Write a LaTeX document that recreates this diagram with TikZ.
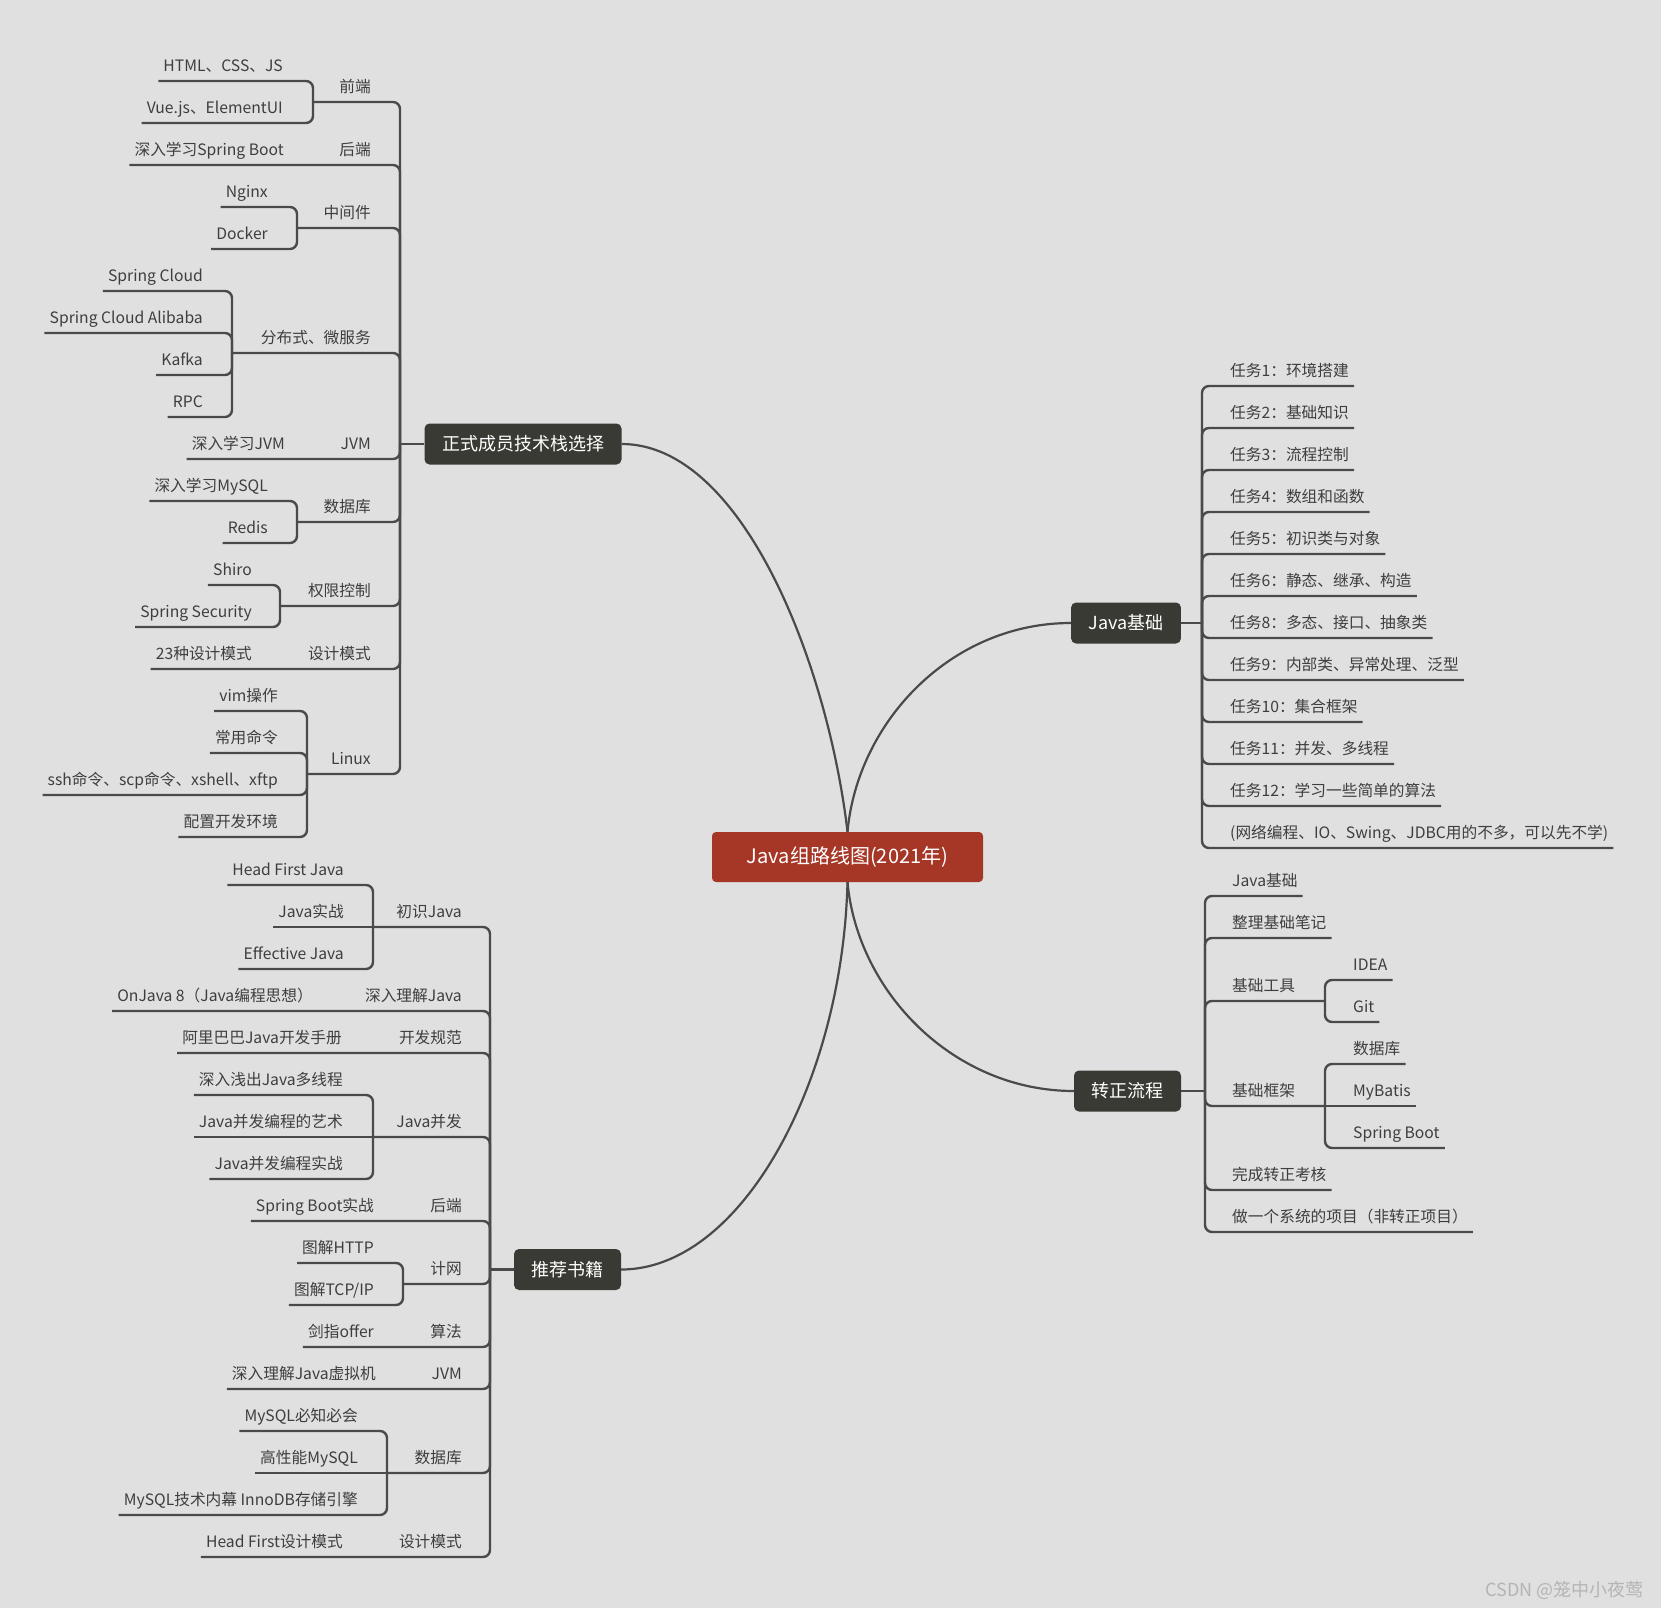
\documentclass[tikz,border=0pt]{standalone}
\usepackage{fontspec}
\setmainfont{Noto Sans CJK SC}
\usepackage{xcolor}
\usepackage{tikz}
\usetikzlibrary{calc}
\definecolor{bggray}{RGB}{224,224,224}
\definecolor{linegray}{RGB}{74,74,77}
\definecolor{textgray}{RGB}{62,62,62}
\definecolor{topicdark}{RGB}{58,58,52}
\definecolor{rootred}{RGB}{166,54,38}
\definecolor{markgray}{RGB}{180,180,180}
\tikzset{
  root/.style={rectangle, rounded corners=4pt, fill=rootred, text=white, minimum width=271pt, minimum height=50pt, font=\fontsize{20}{24}\selectfont},
  topic/.style={rectangle, rounded corners=5pt, fill=topicdark, text=white, inner xsep=17.5pt, minimum height=41pt, font=\fontsize{18}{22}\selectfont},
  leaf/.style={inner xsep=5pt, inner ysep=5.5pt, text height=14pt, text depth=4pt, text=textgray, font=\fontsize{15.7}{19}\selectfont},
  leafl/.style={leaf, anchor=south east},
  leafr/.style={leaf, anchor=south west},
  link/.style={draw=linegray, line width=2.4pt, rounded corners=7pt},
  curve/.style={draw=linegray, line width=2.2pt},
  watermark/.style={text=markgray, font=\fontsize{18}{22}\selectfont}
}

\begin{document}
\begin{tikzpicture}[x=1pt, y=-1pt]
\useasboundingbox (0,0) rectangle (1661,1608);
\fill[bggray] (0,0) rectangle (1661,1608);

\node[root] (java) at (847.5,857) {Java组路线图(2021年)};
\node[topic] (tech) at (523,444) {正式成员技术栈选择};
\node[topic] (base) at (1126,623) {Java基础};
\node[topic] (pass) at (1127.5,1091) {转正流程};
\node[topic] (books) at (567.5,1269.5) {推荐书籍};

\draw[curve] (java.north) .. controls ($(java.north)+(-20,-170)$) and ($(tech.east)+(120,0)$) .. (tech.east);
\draw[curve] (java.north) .. controls ($(java.north)+(10,-110)$) and ($(base.west)+(-120,0)$) .. (base.west);
\draw[curve] (java.south) .. controls ($(java.south)+(-5,200)$) and ($(books.east)+(120,0)$) .. (books.east);
\draw[curve] (java.south) .. controls ($(java.south)+(10,110)$) and ($(pass.west)+(-120,0)$) .. (pass.west);

\coordinate (techin) at (400,444);
\node[leafl] (fe) at (376,102) {前端};
\coordinate (fe-j) at (313,102);
\node[leafl] (fe1) at (288,81) {HTML、CSS、JS};
\node[leafl] (fe2) at (288,123) {Vue.js、ElementUI};
\node[leafl] (be) at (376,165) {后端};
\node[leafl] (be1) at (289,165) {深入学习Spring Boot};
\node[leafl] (mw) at (376,228) {中间件};
\coordinate (mw-j) at (297,228);
\node[leafl] (mw1) at (273,207) {Nginx};
\node[leafl] (mw2) at (273,249) {Docker};
\node[leafl] (ds) at (376,353) {分布式、微服务};
\coordinate (ds-j) at (232,353);
\node[leafl] (ds1) at (208,291) {Spring Cloud};
\node[leafl] (ds2) at (208,333) {Spring Cloud Alibaba};
\node[leafl] (ds3) at (208,375) {Kafka};
\node[leafl] (ds4) at (208,417) {RPC};
\node[leafl] (jvm) at (376,459) {JVM};
\node[leafl] (jvm1) at (290,459) {深入学习JVM};
\node[leafl] (db) at (376,522) {数据库};
\coordinate (db-j) at (297,522);
\node[leafl] (db1) at (273,501) {深入学习MySQL};
\node[leafl] (db2) at (273,543) {Redis};
\node[leafl] (au) at (376,606) {权限控制};
\coordinate (au-j) at (280,606);
\node[leafl] (au1) at (257,585) {Shiro};
\node[leafl] (au2) at (257,627) {Spring Security};
\node[leafl] (dp) at (376,669) {设计模式};
\node[leafl] (dp1) at (257,669) {23种设计模式};
\node[leafl] (lx) at (376,774) {Linux};
\coordinate (lx-j) at (307,774);
\node[leafl] (lx1) at (283,711) {vim操作};
\node[leafl] (lx2) at (283,753) {常用命令};
\node[leafl] (lx3) at (283,795) {ssh命令、scp命令、xshell、xftp};
\node[leafl] (lx4) at (283,837) {配置开发环境};

\draw[link] (techin) -- (tech);
\draw[link] (fe-j) -- (fe.south east) -| (techin); \draw[link] (mw-j) -- (mw.south east) -| (techin);
\draw[link] (ds-j) -- (ds.south east) -| (techin); \draw[link] (db-j) -- (db.south east) -| (techin);
\draw[link] (au-j) -- (au.south east) -| (techin); \draw[link] (lx-j) -- (lx.south east) -| (techin);
\draw[link] (be1.south west) -- (be.south east) -| (techin); \draw[link] (jvm1.south west) -- (jvm.south east) -| (techin);
\draw[link] (dp1.south west) -- (dp.south east) -| (techin);
\draw[link] (fe1.south west) -- (fe1.south east) -| (fe-j); \draw[link] (fe2.south west) -- (fe2.south east) -| (fe-j);
\draw[link] (mw1.south west) -- (mw1.south east) -| (mw-j); \draw[link] (mw2.south west) -- (mw2.south east) -| (mw-j);
\draw[link] (ds1.south west) -- (ds1.south east) -| (ds-j); \draw[link] (ds2.south west) -- (ds2.south east) -| (ds-j);
\draw[link] (ds3.south west) -- (ds3.south east) -| (ds-j); \draw[link] (ds4.south west) -- (ds4.south east) -| (ds-j);
\draw[link] (db1.south west) -- (db1.south east) -| (db-j); \draw[link] (db2.south west) -- (db2.south east) -| (db-j);
\draw[link] (au1.south west) -- (au1.south east) -| (au-j); \draw[link] (au2.south west) -- (au2.south east) -| (au-j);
\draw[link] (lx1.south west) -- (lx1.south east) -| (lx-j); \draw[link] (lx2.south west) -- (lx2.south east) -| (lx-j);
\draw[link] (lx3.south west) -- (lx3.south east) -| (lx-j); \draw[link] (lx4.south west) -- (lx4.south east) -| (lx-j);

\coordinate (bookin) at (490,1269.5);
\node[leafl] (bj) at (467,927) {初识Java};
\coordinate (bj-j) at (373,927);
\node[leafl] (bj1) at (349,885) {Head First Java};
\node[leafl] (bj2) at (349,927) {Java实战};
\node[leafl] (bj3) at (349,969) {Effective Java};
\node[leafl] (dj) at (467,1011) {深入理解Java};
\node[leafl] (dj1) at (318,1011) {OnJava 8（Java编程思想）};
\node[leafl] (gf) at (467,1053) {开发规范};
\node[leafl] (gf1) at (347,1053) {阿里巴巴Java开发手册};
\node[leafl] (cc) at (467,1137) {Java并发};
\coordinate (cc-j) at (373,1137);
\node[leafl] (cc1) at (348,1095) {深入浅出Java多线程};
\node[leafl] (cc2) at (348,1137) {Java并发编程的艺术};
\node[leafl] (cc3) at (348,1179) {Java并发编程实战};
\node[leafl] (sb) at (467,1221) {后端};
\node[leafl] (sb1) at (379,1221) {Spring Boot实战};
\node[leafl] (nw) at (467,1284) {计网};
\coordinate (nw-j) at (403,1284);
\node[leafl] (nw1) at (379,1263) {图解HTTP};
\node[leafl] (nw2) at (379,1305) {图解TCP/IP};
\node[leafl] (al) at (467,1347) {算法};
\node[leafl] (al1) at (379,1347) {剑指offer};
\node[leafl] (vm) at (467,1389) {JVM};
\node[leafl] (vm1) at (381,1389) {深入理解Java虚拟机};
\node[leafl] (sq) at (467,1473) {数据库};
\coordinate (sq-j) at (387,1473);
\node[leafl] (sq1) at (363,1431) {MySQL必知必会};
\node[leafl] (sq2) at (363,1473) {高性能MySQL};
\node[leafl] (sq3) at (363,1515) {MySQL技术内幕 InnoDB存储引擎};
\node[leafl] (hf) at (467,1557) {设计模式};
\node[leafl] (hf1) at (348,1557) {Head First设计模式};

\draw[link] (bookin) -- (books);
\draw[link] (bj-j) -- (bj.south east) -| (bookin); \draw[link] (cc-j) -- (cc.south east) -| (bookin);
\draw[link] (nw-j) -- (nw.south east) -| (bookin); \draw[link] (sq-j) -- (sq.south east) -| (bookin);
\draw[link] (dj1.south west) -- (dj.south east) -| (bookin); \draw[link] (gf1.south west) -- (gf.south east) -| (bookin);
\draw[link] (sb1.south west) -- (sb.south east) -| (bookin); \draw[link] (al1.south west) -- (al.south east) -| (bookin);
\draw[link] (vm1.south west) -- (vm.south east) -| (bookin); \draw[link] (hf1.south west) -- (hf.south east) -| (bookin);
\draw[link] (bj1.south west) -- (bj1.south east) -| (bj-j); \draw[link] (bj2.south west) -- (bj-j);
\draw[link] (bj3.south west) -- (bj3.south east) -| (bj-j);
\draw[link] (cc1.south west) -- (cc1.south east) -| (cc-j); \draw[link] (cc2.south west) -- (cc-j);
\draw[link] (cc3.south west) -- (cc3.south east) -| (cc-j);
\draw[link] (nw1.south west) -- (nw1.south east) -| (nw-j); \draw[link] (nw2.south west) -- (nw2.south east) -| (nw-j);
\draw[link] (sq1.south west) -- (sq1.south east) -| (sq-j); \draw[link] (sq2.south west) -- (sq-j);
\draw[link] (sq3.south west) -- (sq3.south east) -| (sq-j);

\coordinate (basein) at (1202,623);
\node[leafr] (t1) at (1225,386) {任务1：环境搭建};
\node[leafr] (t2) at (1225,428) {任务2：基础知识};
\node[leafr] (t3) at (1225,470) {任务3：流程控制};
\node[leafr] (t4) at (1225,512) {任务4：数组和函数};
\node[leafr] (t5) at (1225,554) {任务5：初识类与对象};
\node[leafr] (t6) at (1225,596) {任务6：静态、继承、构造};
\node[leafr] (t8) at (1225,638) {任务8：多态、接口、抽象类};
\node[leafr] (t9) at (1225,680) {任务9：内部类、异常处理、泛型};
\node[leafr] (t10) at (1225,722) {任务10：集合框架};
\node[leafr] (t11) at (1225,764) {任务11：并发、多线程};
\node[leafr] (t12) at (1225,806) {任务12：学习一些简单的算法};
\node[leafr] (tx) at (1225,848) {(网络编程、IO、Swing、JDBC用的不多，可以先不学)};

\draw[link] (base) -- (basein);
\draw[link] (t1.south east) -- (t1.south west) -| (basein); \draw[link] (t2.south east) -- (t2.south west) -| (basein);
\draw[link] (t3.south east) -- (t3.south west) -| (basein); \draw[link] (t4.south east) -- (t4.south west) -| (basein);
\draw[link] (t5.south east) -- (t5.south west) -| (basein); \draw[link] (t6.south east) -- (t6.south west) -| (basein);
\draw[link] (t8.south east) -- (t8.south west) -| (basein); \draw[link] (t9.south east) -- (t9.south west) -| (basein);
\draw[link] (t10.south east) -- (t10.south west) -| (basein); \draw[link] (t11.south east) -- (t11.south west) -| (basein);
\draw[link] (t12.south east) -- (t12.south west) -| (basein); \draw[link] (tx.south east) -- (tx.south west) -| (basein);

\coordinate (passin) at (1205,1091);
\node[leafr] (p1) at (1227,896) {Java基础};
\node[leafr] (p2) at (1227,938) {整理基础笔记};
\node[leafr] (p3) at (1227,1001) {基础工具};
\coordinate (p3-j) at (1325,1001);
\node[leafr] (p31) at (1348,980) {IDEA};
\node[leafr] (p32) at (1348,1022) {Git};
\node[leafr] (p4) at (1227,1106) {基础框架};
\coordinate (p4-j) at (1325,1106);
\node[leafr] (p41) at (1348,1064) {数据库};
\node[leafr] (p42) at (1348,1106) {MyBatis};
\node[leafr] (p43) at (1348,1148) {Spring Boot};
\node[leafr] (p5) at (1227,1190) {完成转正考核};
\node[leafr] (p6) at (1227,1232) {做一个系统的项目（非转正项目）};

\draw[link] (pass) -- (passin);
\draw[link] (p1.south east) -- (p1.south west) -| (passin); \draw[link] (p2.south east) -- (p2.south west) -| (passin);
\draw[link] (p3-j) -- (p3.south west) -| (passin); \draw[link] (p4-j) -- (p4.south west) -| (passin);
\draw[link] (p5.south east) -- (p5.south west) -| (passin); \draw[link] (p6.south east) -- (p6.south west) -| (passin);
\draw[link] (p31.south east) -- (p31.south west) -| (p3-j); \draw[link] (p32.south east) -- (p32.south west) -| (p3-j);
\draw[link] (p41.south east) -- (p41.south west) -| (p4-j); \draw[link] (p42.south east) -- (p4-j);
\draw[link] (p43.south east) -- (p43.south west) -| (p4-j);

\node[watermark, anchor=base east] (csdn) at (1647,1596) {CSDN @笼中小夜莺};
\end{tikzpicture}
\end{document}
